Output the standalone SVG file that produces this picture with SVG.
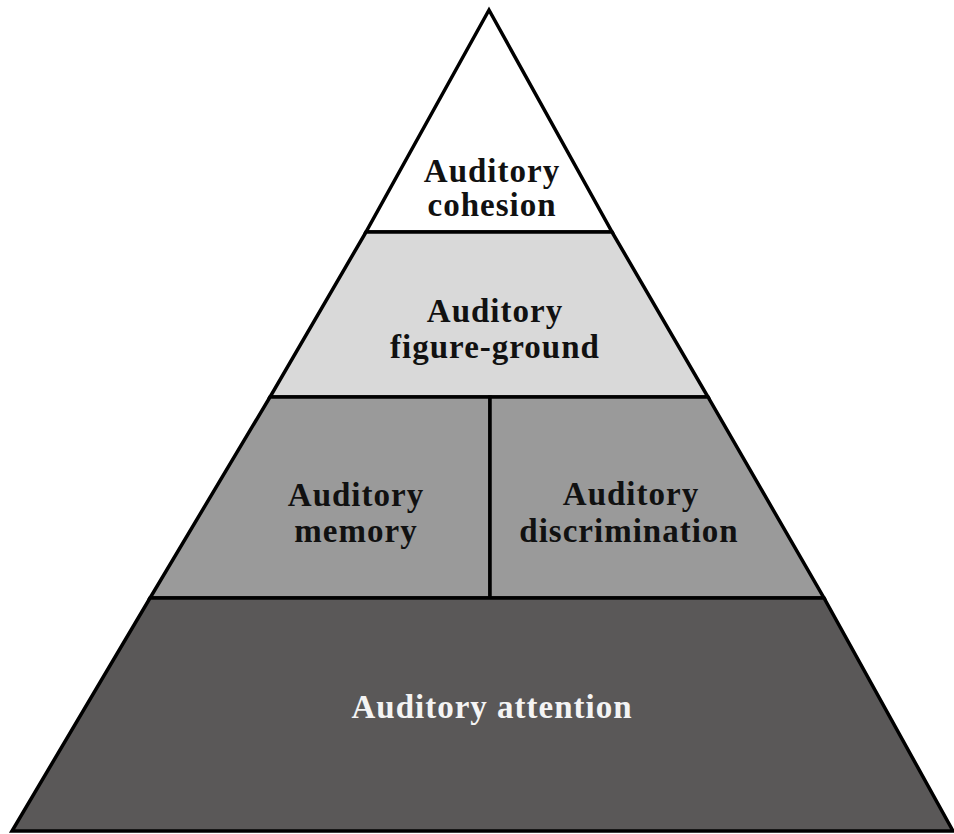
<svg xmlns="http://www.w3.org/2000/svg" width="954" height="834" viewBox="0 0 954 834">
<style>
.t{font-family:"Liberation Serif","Times New Roman",serif;font-weight:bold;font-size:33px;letter-spacing:1px;text-anchor:middle;fill:#111}
.w{fill:#f4f4f4}
.s{stroke:#000;stroke-width:3.5;stroke-linejoin:miter}
</style>
<rect width="954" height="834" fill="#fff"/>
<g id="cohesion">
<polygon class="s" points="489,10 366,232 612,232" fill="#ffffff"/>
<text class="t" x="492" y="182">Auditory</text>
<text class="t" x="492" y="216">cohesion</text>
</g>
<g id="figure-ground">
<polygon class="s" points="366,232 612,232 708,397 270,397" fill="#d9d9d9"/>
<text class="t" x="495" y="322">Auditory</text>
<text class="t" x="495" y="358">figure-ground</text>
</g>
<g id="memory">
<polygon class="s" points="270,397 490,397 490,598 150,598" fill="#9a9a9a"/>
<text class="t" x="356" y="506">Auditory</text>
<text class="t" x="356" y="542">memory</text>
</g>
<g id="discrimination">
<polygon class="s" points="490,397 708,397 824,598 490,598" fill="#9a9a9a"/>
<text class="t" x="631" y="505">Auditory</text>
<text class="t" x="629" y="542">discrimination</text>
</g>
<g id="attention">
<polygon class="s" points="150,598 824,598 953,831 12,831" fill="#5a5858"/>
<text class="t w" x="492" y="718">Auditory attention</text>
</g>
<g id="connectors"></g>
</svg>
